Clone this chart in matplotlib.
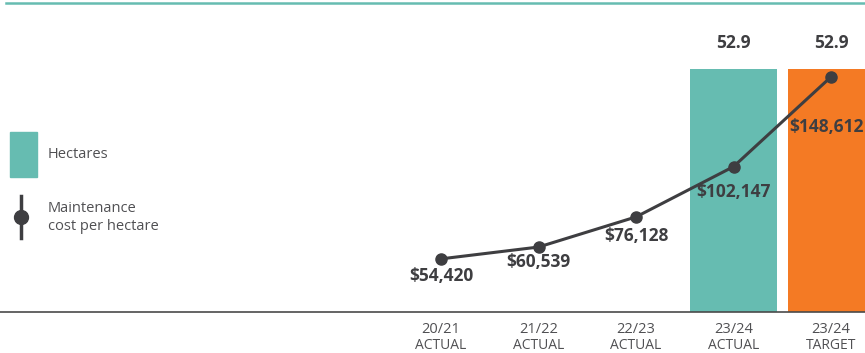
import matplotlib
matplotlib.use('Agg')
import matplotlib.pyplot as plt
from matplotlib.patches import Rectangle
from matplotlib.lines import Line2D
import numpy as np

plt.rcParams['font.family'] = ['Open Sans', 'DejaVu Sans']

# data
years = ['20/21', '21/22', '22/23', '23/24', '23/24']
kinds = ['ACTUAL', 'ACTUAL', 'ACTUAL', 'ACTUAL', 'TARGET']
hectares = [None, None, None, 52.9, 52.9]
cost = [54420, 60539, 76128, 102147, 148612]

teal = '#66bcb1'
orange = '#f47a24'
dark = '#3e3e41'
grey = '#505053'

W, H = 865, 353
fig = plt.figure(figsize=(W / 100, H / 100), dpi=100)
ax = fig.add_axes([0, 0, 1, 1])
ax2 = ax.twinx()

x = np.arange(len(years))
step = 97.5
c0 = 441.0
ax.set_xlim(-c0 / step, (W - c0) / step)
ax.set_ylim(-9.05, 67.95)
ax2.set_ylim(5700, 188400)

bar_colors = [teal, teal, teal, teal, orange]
for i, h in enumerate(hectares):
    if h is None:
        continue
    ax.bar(x[i], h, width=0.89, color=bar_colors[i], zorder=1)
    ax.text(x[i], h + 5.6, f'{h:.1f}', ha='center', va='center',
            fontsize=12.5, fontweight='bold', color=dark)

# baseline
ax.axhline(0, color='#4a4a4a', lw=1.2, zorder=2)

# line
ax2.plot(x, cost, color=dark, lw=2.2, marker='o', ms=8, zorder=3)
offs = [(0, -17), (0, -15), (0, -19), (0, -25), (-5, -50)]  # pixels
for i, v in enumerate(cost):
    ax2.annotate(f'${v:,}', (x[i], v),
                 xytext=(offs[i][0] * 0.72, offs[i][1] * 0.72),
                 textcoords='offset points', ha='center', va='center',
                 fontsize=12.5, fontweight='bold', color=dark, zorder=4)

# category labels
for i in range(len(years)):
    ax.text(x[i], -3.9, years[i], ha='center', va='center',
            fontsize=10.5, color=grey)
    ax.text(x[i], -7.4, kinds[i], ha='center', va='center',
            fontsize=10, color=grey)

for a in (ax, ax2):
    a.axis('off')

# top rule
fig.add_artist(Line2D([6 / W, 1], [1 - 2.5 / H, 1 - 2.5 / H], color=teal, lw=1.8))

# legend
fig.add_artist(Rectangle((10 / W, 1 - 177 / H), 27 / W, 45 / H,
                         color=teal, transform=fig.transFigure))
fig.text(48 / W, 1 - 155 / H, 'Hectares', fontsize=10.5, color=grey, va='center')
fig.add_artist(Line2D([21 / W, 21 / W], [1 - 196 / H, 1 - 238 / H], color=dark, lw=2.5))
fig.add_artist(Line2D([21 / W], [1 - 217 / H], color=dark, marker='o', ms=10))
fig.text(48 / W, 1 - 209 / H, 'Maintenance', fontsize=10.5, color=grey, va='center')
fig.text(48 / W, 1 - 226 / H, 'cost per hectare', fontsize=10.5, color=grey, va='center')

fig.savefig('out.png', dpi=100)
